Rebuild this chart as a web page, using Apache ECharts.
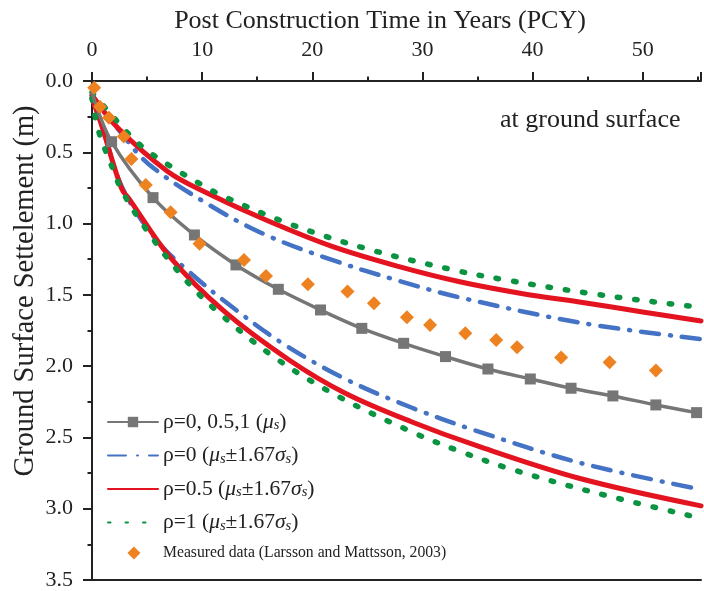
<!DOCTYPE html>
<html><head><meta charset="utf-8">
<script src="https://cdn.jsdelivr.net/npm/echarts@6/dist/echarts.min.js"></script>
<style>html,body{margin:0;padding:0;background:#fff}#c{width:704px;height:591px}</style>
</head><body><div id="c"></div>
<script>
// ---- data ----
const xTicks = [0, 10, 20, 30, 40, 50];
const yTicks = [0.0, 0.5, 1.0, 1.5, 2.0, 2.5, 3.0, 3.5];

const meanX = [0, 1.78, 5.54, 9.30, 13.07, 16.92, 20.75, 24.5, 28.3, 32.1, 35.95, 39.8, 43.5, 47.3, 51.2, 54.9];
const meanY = [0.08, 0.426, 0.818, 1.08, 1.29, 1.461, 1.606, 1.735, 1.84, 1.933, 2.02, 2.09, 2.155, 2.209, 2.272, 2.326];

const rho0UpX = [0, 2.4, 5.1, 10.66, 15.8, 21.8, 27.8, 33.5, 44.7, 55.3];
const rho0UpY = [0.1, 0.34, 0.58, 0.87, 1.08, 1.255, 1.40, 1.52, 1.70, 1.81];
const rho0LoX = [0, 0.9, 2.7, 5.84, 8.85, 12.47, 17.3, 23, 29, 34.75, 44.4, 55.3];
const rho0LoY = [0.12, 0.31, 0.74, 1.115, 1.34, 1.57, 1.84, 2.09, 2.29, 2.45, 2.68, 2.865];

const rho05UpX = [0, 2.38, 6.9, 10.3, 15.8, 21.8, 27.8, 33.5, 39, 44.7, 50, 55.3];
const rho05UpY = [0.1, 0.332, 0.636, 0.78, 0.975, 1.16, 1.30, 1.41, 1.49, 1.555, 1.62, 1.683];
const rho05LoX = [0, 0.87, 2.68, 3.43, 7.05, 11.86, 17.9, 23, 29, 35, 44.4, 55.3];
const rho05LoY = [0.12, 0.31, 0.753, 0.834, 1.232, 1.606, 1.957, 2.19, 2.39, 2.56, 2.79, 2.98];

const rho1UpX = [0, 0.57, 4.2, 7.05, 9.9, 12.0, 18.2, 25.1, 32.8, 37.9, 45.6, 53.9, 55.3];
const rho1UpY = [0.08, 0.133, 0.437, 0.594, 0.725, 0.811, 1.01, 1.18, 1.325, 1.40, 1.494, 1.576, 1.585];
const rho1LoX = [0, 0.57, 1.93, 2.68, 4.64, 8.1, 11.4, 16.7, 22.4, 29.3, 33.5, 37.8, 45.3, 55.3];
const rho1LoY = [0.12, 0.344, 0.624, 0.764, 1.01, 1.36, 1.618, 1.945, 2.214, 2.47, 2.6, 2.716, 2.88, 3.067];

const measX = [0.2, 0.72, 1.54, 2.89, 3.58, 4.88, 7.14, 9.76, 13.8, 15.8, 19.6, 23.2, 25.6, 28.6, 30.7, 33.9, 36.7, 38.6, 42.6, 47.0, 51.2];
const measY = [0.047, 0.18, 0.257, 0.39, 0.547, 0.729, 0.921, 1.141, 1.255, 1.367, 1.426, 1.477, 1.559, 1.657, 1.711, 1.77, 1.816, 1.868, 1.94, 1.973, 2.03];

const xTitle = 'Post Construction Time in Years (PCY)';
const yTitle = 'Ground Surface Settelement (m)';
const note = 'at ground surface';

const names = ['ρ=0, 0.5,1 (μs)', 'ρ=0 (μs±1.67σs)', 'ρ=0.5 (μs±1.67σs)', 'ρ=1 (μs±1.67σs)', 'Measured data (Larsson and Mattsson, 2003)'];
const richNames = {
  [names[0]]: '{t|ρ=0, 0.5,1 (}{i|μ}{s|s}{t|)}',
  [names[1]]: '{t|ρ=0 (}{i|μ}{s|s}{t|±1.67}{i|σ}{s|s}{t|)}',
  [names[2]]: '{t|ρ=0.5 (}{i|μ}{s|s}{t|±1.67}{i|σ}{s|s}{t|)}',
  [names[3]]: '{t|ρ=1 (}{i|μ}{s|s}{t|±1.67}{i|σ}{s|s}{t|)}',
  [names[4]]: '{m|Measured data (Larsson and Mattsson, 2003)}'
};

const zip = (xs, ys) => xs.map((x, i) => [x, ys[i]]);
const F = 'Liberation Serif';
const GRAY = '#767676', BLUE = '#4472C4', RED = '#E3131F', GREEN = '#0A9340', ORANGE = '#EE8220';

const chart = echarts.init(document.getElementById('c'), null, {renderer: 'canvas'});

function lineSeries(name, data, color, width, dash, extra) {
  return Object.assign({
    name, type: 'line', data, smooth: 0.35, showSymbol: false, symbol: 'none',
    lineStyle: {color, width, type: dash || 'solid', cap: 'round'},
    itemStyle: {color}, z: 3, animation: false
  }, extra || {});
}

const blueDash = [18, 11, 1, 11];
const greenDash = [2.5, 15];

const series = [
  lineSeries(names[0], zip(meanX, meanY).map((p, i) => i === 0 ? {value: p, symbol: 'none'} : p), GRAY, 3.5, null,
    {showSymbol: true, symbol: 'rect', symbolSize: 11, z: 4}),
  lineSeries(names[1], zip(rho0UpX, rho0UpY), BLUE, 4.5, blueDash),
  lineSeries(names[2], zip(rho05UpX, rho05UpY), RED, 5, null),
  lineSeries(names[3], zip(rho1UpX, rho1UpY), GREEN, 5.5, greenDash),
  lineSeries(names[1], zip(rho0LoX, rho0LoY), BLUE, 4.5, blueDash),
  lineSeries(names[2], zip(rho05LoX, rho05LoY), RED, 5, null),
  lineSeries(names[3], zip(rho1LoX, rho1LoY), GREEN, 5.5, greenDash),
  {name: names[4], type: 'scatter', data: zip(measX, measY), symbol: 'diamond', symbolSize: 14,
   itemStyle: {color: ORANGE, opacity: 1}, z: 5, animation: false}
];

const axisLineStyle = {color: '#222', width: 2};
const hideSym = {opacity: 0};
const diamondIcon = 'path://M0,0L0,0ZM50,14L50,14ZM19,7L26,0L33,7L26,14Z';
chart.setOption({
  backgroundColor: '#fff',
  animation: false,
  grid: {left: 92, right: 0, top: 81, bottom: 11, containLabel: false},
  xAxis: [{
    type: 'value', position: 'top', min: 0, max: 55.3, interval: 10,
    axisLine: {show: true, onZero: false, lineStyle: axisLineStyle},
    axisTick: {show: true, inside: false, length: 9, lineStyle: axisLineStyle},
    minorTick: {show: true, splitNumber: 2, length: 4.5, lineStyle: axisLineStyle},
    splitLine: {show: false},
    axisLabel: {fontFamily: F, fontSize: 22, color: '#222', margin: 20,
      formatter: v => xTicks.includes(v) ? String(v) : ''}
  }, {
    type: 'value', position: 'bottom', min: 0, max: 55.3,
    axisLine: {show: true, onZero: false, lineStyle: axisLineStyle},
    axisTick: {show: false}, axisLabel: {show: false}, splitLine: {show: false}
  }],
  yAxis: {
    type: 'value', inverse: true, min: 0, max: 3.5, interval: 0.5,
    axisLine: {show: true, onZero: false, lineStyle: axisLineStyle},
    axisTick: {show: true, length: 9, lineStyle: axisLineStyle},
    minorTick: {show: true, splitNumber: 2, length: 4.5, lineStyle: axisLineStyle},
    splitLine: {show: false},
    axisLabel: {fontFamily: F, fontSize: 22, color: '#222', margin: 19, padding: [8, 0, 0, 0],
      formatter: v => yTicks.some(t => Math.abs(t - v) < 1e-9) ? v.toFixed(1) : ''}
  },
  legend: {
    data: [
      {name: names[0]},
      {name: names[1], itemStyle: hideSym},
      {name: names[2], itemStyle: hideSym},
      {name: names[3], itemStyle: hideSym},
      {name: names[4], icon: diamondIcon}
    ],
    orient: 'vertical', left: 102, top: 406,
    itemWidth: 50, itemHeight: 13, itemGap: 11.5,
    backgroundColor: 'transparent', inactiveColor: '#ccc',
    formatter: n => richNames[n],
    textStyle: {
      fontFamily: F, fontSize: 21, color: '#222',
      rich: {
        t: {fontFamily: F, fontSize: 21.5, color: '#222', lineHeight: 22},
        i: {fontFamily: F, fontSize: 21.5, fontStyle: 'italic', color: '#222', lineHeight: 22},
        s: {fontFamily: F, fontSize: 14.5, fontStyle: 'italic', color: '#222', lineHeight: 14, verticalAlign: 'bottom'},
        m: {fontFamily: F, fontSize: 15.7, color: '#222', lineHeight: 22}
      }
    }
  },
  graphic: [{
    type: 'text', left: 500, top: 107,
    style: {text: note, fontFamily: F, fontSize: 26, fill: '#222'}
  }, {
    type: 'text', x: 380, y: 21,
    style: {text: xTitle, fontFamily: F, fontSize: 26, fill: '#222', align: 'center', verticalAlign: 'middle'}
  }, {
    type: 'text', x: 26, y: 291, rotation: Math.PI / 2,
    style: {text: yTitle, fontFamily: F, fontSize: 28.5, fill: '#222', align: 'center', verticalAlign: 'middle'}
  }],
  series
});
</script></body></html>
